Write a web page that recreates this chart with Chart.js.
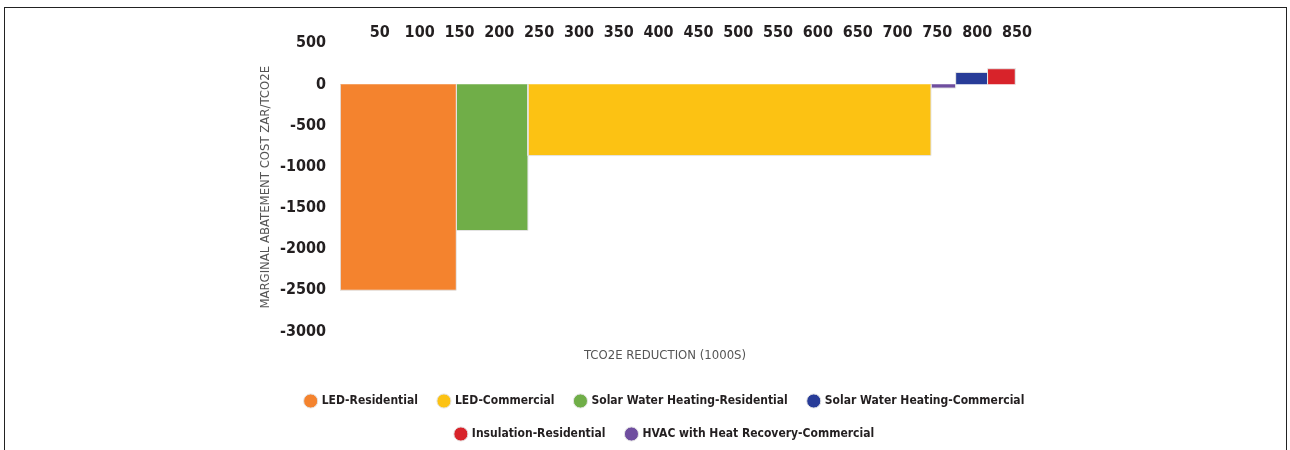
<!DOCTYPE html>
<html>
<head>
<meta charset="utf-8">
<script src="https://cdn.jsdelivr.net/npm/chart.js@4/dist/chart.umd.min.js"></script>
<style>
  body { margin: 0; background: #fff; }
  #wrap { position: relative; width: 1290px; height: 450px; overflow: hidden; }
  #frame { position: absolute; left: 4px; top: 7px; width: 1283px; height: 460px; border: 1px solid #222; box-sizing: border-box; }
  #mac-chart { position: absolute; left: 0; top: 0; }
</style>
</head>
<body>
<div id="wrap">
  <div id="frame"></div>
  <canvas id="mac-chart" width="1290" height="450"></canvas>
</div>
<script>
// measures, in legend order
const categories = ['LED-Residential', 'LED-Commercial', 'Solar Water Heating-Residential',
    'Solar Water Heating-Commercial', 'Insulation-Residential', 'HVAC with Heat Recovery-Commercial'];
// cumulative tCO2e reduction (1000s) where each block starts / ends
const reductionStart = [0, 236, 146, 773, 813, 742];
const reductionEnd = [146, 742, 236, 813, 848, 773];
// marginal abatement cost, ZAR/tCO2e
const abatementCost = [-2500, -865, -1775, 145, 190, -45];
const colors = ['#F4832E', '#FCC213', '#70AE48', '#283C98', '#D8232A', '#6F4E9F'];

const narrow = "'Liberation Sans Narrow', 'DejaVu Sans Condensed', sans-serif";

const datasets = categories.map((name, i) => ({
    label: name,
    data: [
        {x: reductionStart[i], y: 0},
        {x: reductionStart[i], y: abatementCost[i]},
        {x: reductionEnd[i], y: abatementCost[i]},
        {x: reductionEnd[i], y: 0},
    ],
    showLine: true,
    fill: 'origin',
    backgroundColor: colors[i],
    borderColor: '#e4e4e4',
    borderWidth: 1,
    pointRadius: 0,
    pointHoverRadius: 0,
    tension: 0,
}));

const ctx = document.getElementById('mac-chart');
const myChart = new Chart(ctx, {
    type: 'scatter',
    data: { datasets: datasets },
    options: {
        responsive: false,
        animation: false,
        layout: {
            padding: { left: 253, right: 213, top: 22, bottom: 0 }
        },
        plugins: {
            legend: {
                position: 'bottom',
                weight: 1000,
                labels: {
                    usePointStyle: true,
                    pointStyle: 'circle',
                    boxWidth: 10,
                    boxHeight: 10,
                    padding: 21,
                    color: '#231F20',
                    font: { family: narrow, size: 12, weight: 'bold' },
                },
            },
            title: {
                display: true,
                position: 'bottom',
                weight: 500,
                text: 'TCO2E REDUCTION (1000S)',
                color: '#555',
                font: { family: narrow, size: 13, weight: 'normal' },
                padding: { top: 16, bottom: 11 },
            },
            tooltip: { enabled: false },
        },
        scales: {
            x: {
                type: 'linear',
                position: 'top',
                min: 0,
                max: 850,
                grid: { display: false, drawTicks: false },
                border: { display: false },
                ticks: {
                    stepSize: 50,
                    padding: 1,
                    color: '#231F20',
                    font: { family: narrow, size: 16, weight: 'bold' },
                    callback: (v) => v === 0 ? '' : String(v),
                },
            },
            y: {
                min: -3000,
                max: 500,
                afterFit: (scale) => { scale.width = 87; },
                grid: { display: false, drawTicks: false },
                border: { display: false },
                ticks: {
                    stepSize: 500,
                    padding: 14,
                    color: '#231F20',
                    font: { family: narrow, size: 16, weight: 'bold' },
                    callback: (v) => String(v),
                },
                title: {
                    display: true,
                    text: 'MARGINAL ABATEMENT COST ZAR/TCO2E',
                    color: '#555',
                    font: { family: narrow, size: 13, weight: 'normal' },
                    padding: { top: 5, bottom: 0 },
                },
            },
            yRight: {
                position: 'right',
                afterFit: (scale) => { scale.width = 60; },
                grid: { display: false, drawTicks: false },
                border: { display: false },
                ticks: { display: false },
            },
        }
    }
});
</script>
</body>
</html>
